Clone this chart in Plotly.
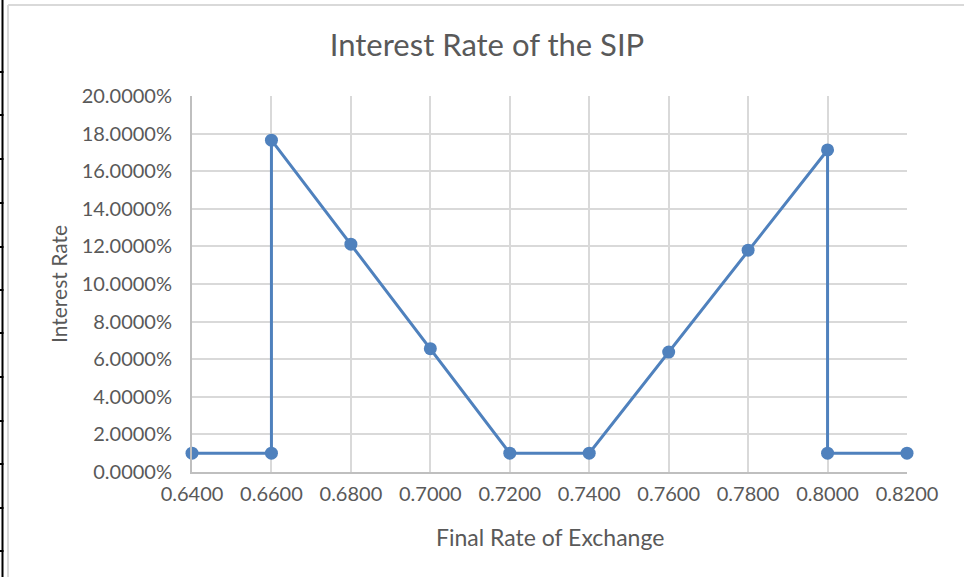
import plotly.graph_objects as go

# Data
exchange_rate = [0.64, 0.66, 0.66, 0.68, 0.70, 0.72, 0.74, 0.76, 0.78, 0.80, 0.80, 0.82]
interest_rate = [0.010, 0.010, 0.1765, 0.1212, 0.0656, 0.010, 0.010, 0.0638, 0.1180, 0.1713, 0.010, 0.010]
x_ticks = [0.64, 0.66, 0.68, 0.70, 0.72, 0.74, 0.76, 0.78, 0.80, 0.82]
y_ticks = [0.0, 0.02, 0.04, 0.06, 0.08, 0.10, 0.12, 0.14, 0.16, 0.18, 0.20]

W, H = 964, 577
L, R, T, B = 192, 57, 96, 105
PW, PH = W - L - R, H - T - B

def px(xp):
    return (xp - L) / PW

def py(yp):
    return (H - B - yp) / PH

FONT = "Lato, 'Open Sans', sans-serif"
TXT = "#595959"
BLUE = "#4f81bd"

fig = go.Figure(go.Scatter(
    x=exchange_rate, y=interest_rate, mode="lines+markers",
    line=dict(color=BLUE, width=3),
    marker=dict(color=BLUE, size=13),
    cliponaxis=False,
))

shapes = []
# chart area border (light grey)
shapes.append(dict(type="line", xref="paper", yref="paper", x0=px(8), x1=px(970), y0=py(5), y1=py(5),
                   line=dict(color="#d9d9d9", width=2)))
shapes.append(dict(type="line", xref="paper", yref="paper", x0=px(8), x1=px(8), y0=py(5), y1=py(580),
                   line=dict(color="#d9d9d9", width=2)))
# spreadsheet cell borders at the left edge
shapes.append(dict(type="line", xref="paper", yref="paper", x0=px(2.5), x1=px(2.5), y0=py(0), y1=py(580),
                   line=dict(color="black", width=2)))
for yy in [72, 115, 159, 203, 247, 290, 333, 377, 421, 464, 508, 551]:
    shapes.append(dict(type="line", xref="paper", yref="paper", x0=px(0), x1=px(3.5), y0=py(yy), y1=py(yy),
                       line=dict(color="black", width=2)))

fig.update_layout(
    width=W, height=H,
    margin=dict(l=L, r=R, t=T, b=B),
    paper_bgcolor="white", plot_bgcolor="white",
    showlegend=False,
    font=dict(family=FONT, color=TXT, size=20),
    title=dict(text="Interest Rate of the SIP", x=487 / W, xref="container", xanchor="center",
               y=1 - 45 / H, yref="container", yanchor="middle",
               font=dict(family=FONT, size=31, color=TXT)),
    xaxis=dict(range=[0.64, 0.82], tickvals=x_ticks, tickformat=".4f",
               showgrid=True, gridcolor="#d9d9d9", gridwidth=2,
               showline=True, linecolor="#bfbfbf", linewidth=2,
               zeroline=False, ticks="", ticklabelstandoff=3,
               tickfont=dict(family=FONT, size=20, color=TXT)),
    yaxis=dict(range=[0, 0.20], tickvals=y_ticks, tickformat=".4%",
               showgrid=True, gridcolor="#d9d9d9", gridwidth=2,
               showline=True, linecolor="#bfbfbf", linewidth=2,
               zeroline=False, ticks="", ticklabelstandoff=14,
               tickfont=dict(family=FONT, size=20, color=TXT)),
    shapes=shapes,
    annotations=[
        dict(text="Final Rate of Exchange", xref="paper", yref="paper", x=0.5, y=0,
             xanchor="center", yanchor="middle", yshift=-(537 - (H - B)), showarrow=False,
             font=dict(family=FONT, size=23, color=TXT)),
        dict(text="Interest Rate", xref="paper", yref="paper", x=0, y=0.5,
             xanchor="center", yanchor="middle", xshift=58 - L, textangle=-90, showarrow=False,
             font=dict(family=FONT, size=21, color=TXT)),
    ],
)

fig.write_html("out.html", config={"displayModeBar": False},
               post_script="document.body.style.margin='0';document.body.style.overflow='hidden';")
